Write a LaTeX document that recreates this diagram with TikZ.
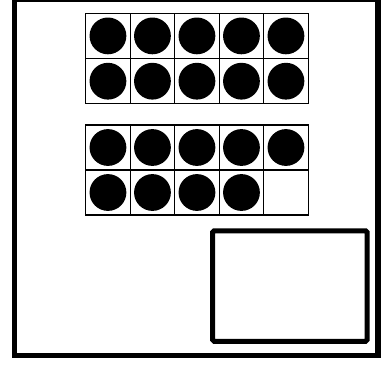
\documentclass[tikz,border=0pt]{standalone}
\begin{document}
\begin{tikzpicture}[x=1pt,y=-1pt,
  cell/.style={draw=black, line width=1.3pt, minimum width=44.5pt, minimum height=45.2pt, inner sep=0pt, outer sep=0pt},
  counter/.style={circle, fill=black, minimum size=36.8pt, inner sep=0pt},
  frame/.style={draw=black, line width=5.3pt},
  answerbox/.style={draw=black, line width=5pt, rounded corners=1.5pt}]
\useasboundingbox (0,0) rectangle (385,364);
\fill[white] (0,0) rectangle (385,364);
\draw[frame] (14.5,-1) rectangle (378,355.4);
% first ten frame (10 counters)
\foreach \r in {0,1}{
  \foreach \c in {0,...,4}{
    \node[cell] (fa-\r-\c) at ({85.7+22.25+44.5*\c},{13.3+22.6+45.3*\r}) {};
    \node[counter] (da-\r-\c) at (fa-\r-\c) {};
  }
}
% second ten frame (9 counters)
\foreach \r in {0,1}{
  \foreach \c in {0,...,4}{
    \node[cell] (fb-\r-\c) at ({85.7+22.25+44.5*\c},{125+22.5+45*\r}) {};
  }
}
\foreach \c in {0,...,4}{ \node[counter] (db-0-\c) at (fb-0-\c) {}; }
\foreach \c in {0,...,3}{ \node[counter] (db-1-\c) at (fb-1-\c) {}; }
\node[answerbox, minimum width=154.5pt, minimum height=110.5pt, inner sep=0pt] (ans) at (289.8,286) {};
\end{tikzpicture}
\end{document}
